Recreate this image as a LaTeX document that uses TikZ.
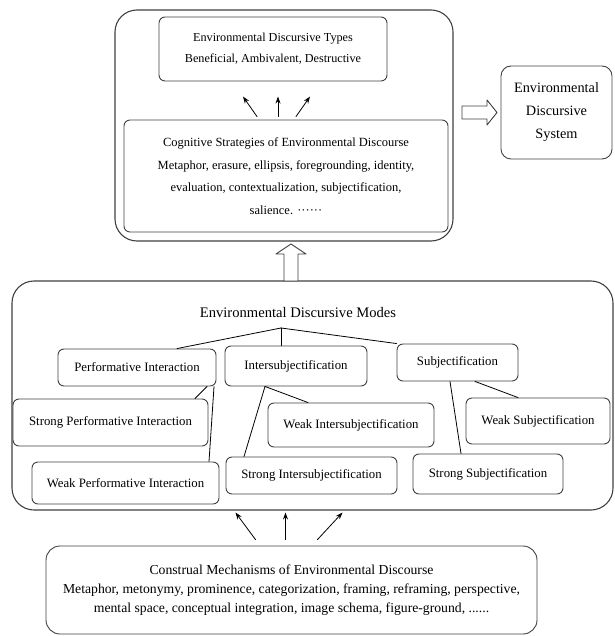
\documentclass[tikz,border=0pt]{standalone}
\usepackage{fontspec}
\setmainfont{Liberation Serif}
\usetikzlibrary{arrows.meta,calc}

\begin{document}
\begin{tikzpicture}[x=1pt, y=-1pt, >={Stealth[length=7pt,width=5pt]},
                    line width=0.8pt, line cap=round, line join=round,
                    box/.style={draw=black!75, rounded corners=6pt, line width=0.9pt,
                                align=center, inner sep=0pt,
                                font=\fontsize{12.8}{16}\selectfont},
                    frame/.style={draw=black!75, rounded corners=22pt, line width=1.1pt},
                    hollow/.style={draw=black!75, line width=0.9pt, fill=white}]
  \useasboundingbox (0,0) rectangle (614,636);

  % ---- Outer frames ----
  \node[frame, minimum width=338pt, minimum height=231pt] (top)   at (284,125.5) {};
  \node[frame, minimum width=601pt, minimum height=229pt] (modes) at (312.5,395.5) {};

  % ---- Upper part: strategies -> types -> system ----
  \node[box, minimum width=228pt, minimum height=64pt,
        font=\fontsize{12.2}{21}\selectfont] (types) at (273,49)
    {Environmental Discursive Types\\Beneficial, Ambivalent, Destructive};
  \node[box, minimum width=324pt, minimum height=112pt,
        font=\fontsize{12.5}{22.5}\selectfont] (cog) at (286,176)
    {Cognitive Strategies of Environmental Discourse\\
     Metaphor, erasure, ellipsis, foregrounding, identity,\\
     evaluation, contextualization, subjectification,\\
     salience. ······};
  \node[box, rounded corners=10pt, minimum width=111pt, minimum height=93pt,
        font=\fontsize{14.3}{23}\selectfont] (sys) at (556.5,112.5)
    {Environmental\\Discursive\\System};

  % strategies -> types
  \foreach \dx/\ex in {-29/-14, -8/0, 10/14}
    \draw[->] ($(cog.north)+(\dx,-3)$) -- ++(\ex,-20);

  % hollow arrows
  \coordinate (rbase) at (462,112.5);
  \draw[hollow] (rbase) ++(0,-6.5) -- ++(25,0) -- ++(0,-6) -- ++(10,12.5)
    -- ++(-10,12.5) -- ++(0,-6) -- ++(-25,0) -- cycle;
  \coordinate (upbase) at (291,281);
  \draw[hollow] (upbase) ++(-7,0) -- ++(0,-27) -- ++(-8,0) -- ++(15,-10)
    -- ++(15,10) -- ++(-8,0) -- ++(0,27) -- cycle;

  % ---- Discursive modes ----
  \node[font=\fontsize{14.6}{17}\selectfont] (mtitle) at (298,313)
    {Environmental Discursive Modes};
  \coordinate (fork) at (281,328);

  \node[box, minimum width=158pt, minimum height=37pt] (perf)   at (137,367.5)   {Performative Interaction};
  \node[box, minimum width=142pt, minimum height=40pt] (inter)  at (296,366)     {Intersubjectification};
  \node[box, minimum width=121pt, minimum height=37pt] (subj)   at (457.5,362.5) {Subjectification};
  \node[box, minimum width=195pt, minimum height=47pt] (sperf)  at (110.5,422.5) {Strong Performative Interaction};
  \node[box, minimum width=187pt, minimum height=42pt] (wperf)  at (125.5,483)   {Weak Performative Interaction};
  \node[box, minimum width=166pt, minimum height=44pt] (winter) at (351,425)     {Weak Intersubjectification};
  \node[box, minimum width=171pt, minimum height=37pt] (sinter) at (311.5,475.5) {Strong Intersubjectification};
  \node[box, minimum width=144pt, minimum height=46pt] (wsubj)  at (538,421)     {Weak Subjectification};
  \node[box, minimum width=150pt, minimum height=40pt] (ssubj)  at (488,474)     {Strong Subjectification};

  % tree lines
  \draw (fork) -- ($(perf.north)+(40,0)$);
  \draw (fork) -- (fork |- inter.north);
  \draw (fork) -- (subj.north west);
  \draw ($(perf.south)+(70,0)$)  -- ($(sperf.north)+(84.5,0)$);
  \draw ($(perf.south)+(77,0)$)  -- ($(wperf.north)+(83.5,0)$);
  \draw ($(inter.south)+(-31,0)$) -- ($(winter.north)+(-43,0)$);
  \draw ($(inter.south)+(-31,0)$) -- ($(sinter.north)+(-67.5,0)$);
  \draw ($(subj.south)+(-7.5,0)$) -- ($(ssubj.north)+(-27,0)$);
  \draw ($(subj.south)+(17.5,0)$) -- ($(wsubj.north)+(-20,0)$);

  % ---- Construal mechanisms ----
  \node[box, rounded corners=14pt, minimum width=491pt, minimum height=88pt,
        font=\fontsize{13.7}{19}\selectfont] (cons) at (291.5,590)
    {Construal Mechanisms of Environmental Discourse\\
     Metaphor, metonymy, prominence, categorization, framing, reframing, perspective,\\
     mental space, conceptual integration, image schema, figure-ground, ......};

  % mechanisms -> modes
  \foreach \dx/\ex in {-36/-20, -6/0, 26/25}
    \draw[->] ($(cons.north)+(\dx,-6)$) -- ++(\ex,-27);
\end{tikzpicture}
\end{document}
